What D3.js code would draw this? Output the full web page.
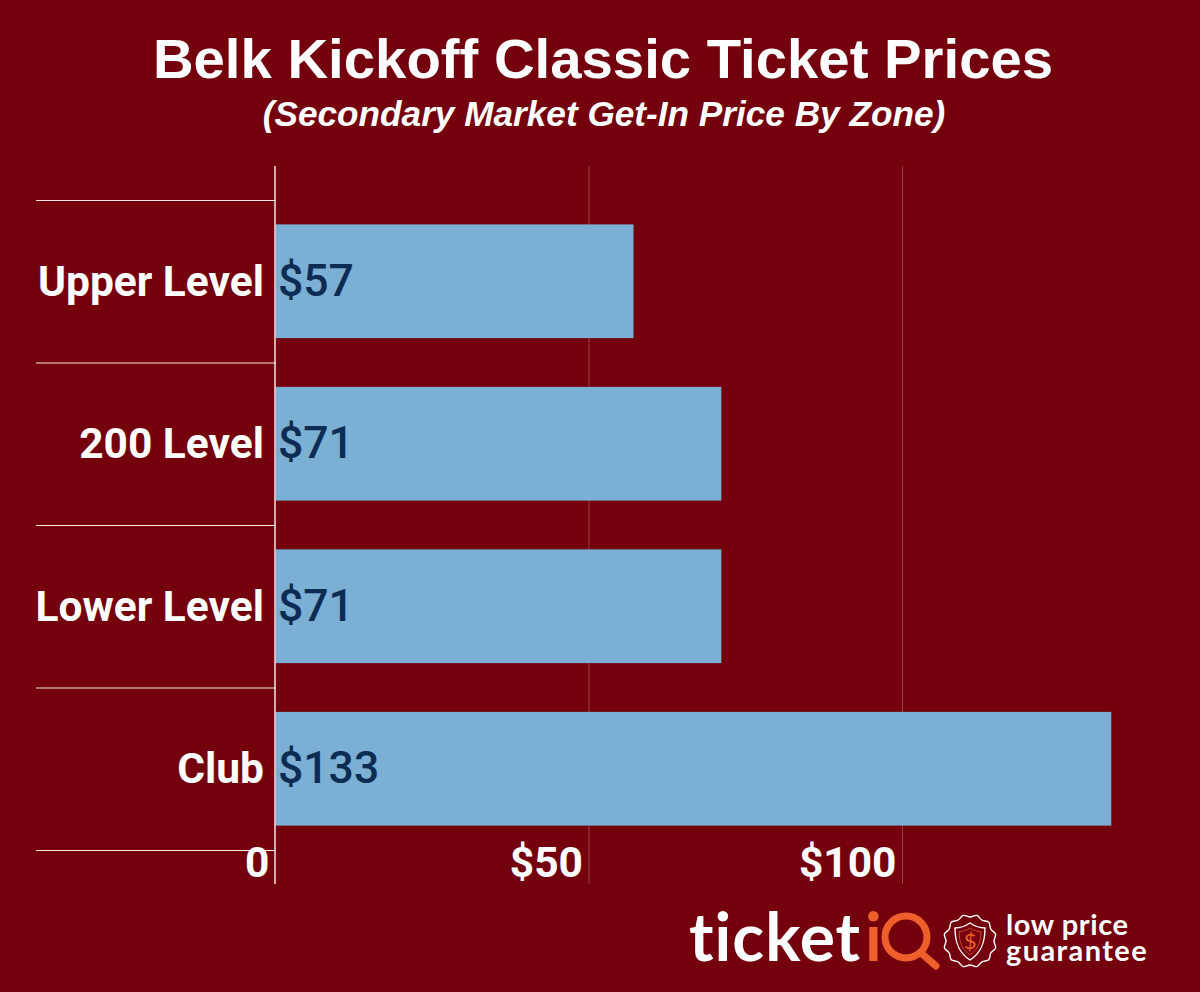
<!DOCTYPE html>
<html>
<head>
<meta charset="utf-8">
<script src="https://cdn.jsdelivr.net/npm/d3@7"></script>
<style>
  html, body { margin: 0; padding: 0; background: #75000d; }
  svg { display: block; }
</style>
</head>
<body>
<div id="chart"></div>
<script>
// values
const zones = ["Upper Level", "200 Level", "Lower Level", "Club"];
const prices = [57, 71, 71, 133];
const barValues = [57.1, 71.1, 71.1, 133.3];
const xTicks = [0, 50, 100];

const width = 1200, height = 992;
const bg = "#75000d";

const svg = d3.select("#chart").append("svg")
    .attr("width", width)
    .attr("height", height);

svg.append("rect").attr("width", width).attr("height", height).attr("fill", bg);

// title
svg.append("text")
    .attr("x", 603).attr("y", 78)
    .attr("text-anchor", "middle")
    .style("font-family", "'Liberation Sans'")
    .style("font-weight", "bold")
    .style("font-size", "56.3px")
    .attr("fill", "#fff")
    .text("Belk Kickoff Classic Ticket Prices");
svg.append("text")
    .attr("x", 604).attr("y", 126)
    .attr("text-anchor", "middle")
    .style("font-family", "'Liberation Sans'")
    .style("font-weight", "bold")
    .style("font-style", "italic")
    .style("font-size", "35.2px")
    .attr("fill", "#fff")
    .text("(Secondary Market Get-In Price By Zone)");

// scales
const x = d3.scaleLinear().domain([0, 100]).range([275.5, 902.5]);
const y = d3.scaleBand().domain(zones).range([200.5, 850.5]).paddingInner(0.3).paddingOuter(0.15);

// vertical gridlines
svg.append("g").selectAll("line")
    .data(xTicks.slice(1))
    .enter().append("line")
    .attr("x1", d => x(d)).attr("x2", d => x(d))
    .attr("y1", 166).attr("y2", 884)
    .attr("stroke", "#93404a")
    .attr("stroke-width", 1);

// separators between the zones
const seps = zones.map(z => y(z) - y.step() * y.paddingOuter()).concat([850.5]);
svg.append("g").selectAll("line")
    .data(seps)
    .enter().append("line")
    .attr("x1", 36).attr("x2", x(0))
    .attr("y1", d => d).attr("y2", d => d)
    .attr("stroke", "#f7e8e8")
    .attr("stroke-width", 1);

// bars
svg.append("g").selectAll("rect")
    .data(zones)
    .enter().append("rect")
    .attr("x", x(0))
    .attr("y", d => y(d) - 0.5)
    .attr("width", (d, i) => x(barValues[i]) - x(0))
    .attr("height", y.bandwidth())
    .attr("fill", "#7bafd4");

// y axis line
svg.append("line")
    .attr("x1", x(0) - 0.5).attr("x2", x(0) - 0.5)
    .attr("y1", 166).attr("y2", 884)
    .attr("stroke", "#f4e6e7")
    .attr("stroke-width", 1.5);

// zone labels
svg.append("g").selectAll("text")
    .data(zones)
    .enter().append("text")
    .attr("x", 264)
    .attr("y", d => y(d) + y.bandwidth() / 2 + 14)
    .attr("text-anchor", "end")
    .style("font-family", "Roboto")
    .style("font-weight", "bold")
    .style("font-size", "42.5px")
    .attr("fill", "#fff")
    .text(d => d);

// value labels
svg.append("g").selectAll("text")
    .data(prices)
    .enter().append("text")
    .attr("x", 278)
    .attr("y", (d, i) => y(zones[i]) + y.bandwidth() / 2 + 14)
    .style("font-family", "Roboto")
    .style("font-weight", 500)
    .style("font-size", "44.5px")
    .attr("fill", "#0d2c54")
    .text(d => "$" + d);

// x tick labels
svg.append("g").selectAll("text")
    .data(xTicks)
    .enter().append("text")
    .attr("x", d => x(d) - 6)
    .attr("y", 877)
    .attr("text-anchor", "end")
    .style("font-family", "Roboto")
    .style("font-weight", "bold")
    .style("font-size", "42.5px")
    .attr("fill", "#fff")
    .text(d => d === 0 ? "0" : "$" + d);

// ticketiQ logo
const logo = svg.append("g");
logo.append("text")
    .attr("x", 689).attr("y", 961)
    .style("font-family", "Lato")
    .style("font-weight", "bold")
    .style("font-size", "66px")
    .style("letter-spacing", "1px")
    .attr("fill", "#fff")
    .text("ticket");
logo.append("text")
    .attr("x", 865).attr("y", 961)
    .style("font-family", "Lato")
    .style("font-weight", "bold")
    .style("font-size", "66px")
    .attr("fill", "#ee5f2b")
    .text("i");
logo.append("circle")
    .attr("cx", 906).attr("cy", 937).attr("r", 21)
    .attr("fill", "none").attr("stroke", "#ee5f2b").attr("stroke-width", 7);
logo.append("line")
    .attr("x1", 921).attr("y1", 953).attr("x2", 936).attr("y2", 966)
    .attr("stroke", "#ee5f2b").attr("stroke-width", 7).attr("stroke-linecap", "round");

// badge
const badge = logo.append("g").attr("transform", "translate(970,941)");
const wavy = d3.lineRadial().curve(d3.curveCatmullRomClosed)
    .angle(d => d[0]).radius(d => d[1]);
const wavyPts = d3.range(24).map(i => [i * Math.PI / 12, i % 2 ? 26.5 : 24]);
badge.append("path")
    .attr("d", wavy(wavyPts))
    .attr("fill", "none").attr("stroke", "#fff").attr("stroke-width", 1.4);
const shield = "M0,-18 C6,-14 11,-13 15,-13 C15,2 11,12 0,19 C-11,12 -15,2 -15,-13 C-11,-13 -6,-14 0,-18 Z";
badge.append("path")
    .attr("d", shield)
    .attr("fill", "none").attr("stroke", "#fff").attr("stroke-width", 1.4);
badge.append("path")
    .attr("d", shield)
    .attr("transform", "scale(0.72)")
    .attr("fill", "none").attr("stroke", "#ee5f2b").attr("stroke-width", 1);
badge.append("text")
    .attr("y", 8).attr("text-anchor", "middle")
    .style("font-family", "Lato")
    .style("font-size", "22px")
    .attr("fill", "#ee5f2b")
    .text("$");

logo.append("text")
    .attr("x", 1006).attr("y", 935)
    .style("font-family", "Lato")
    .style("font-weight", "bold")
    .style("font-size", "29px")
    .style("letter-spacing", "0.6px")
    .attr("fill", "#fff")
    .text("low price");
logo.append("text")
    .attr("x", 1006).attr("y", 961)
    .style("font-family", "Lato")
    .style("font-weight", "bold")
    .style("font-size", "29px")
    .style("letter-spacing", "1.4px")
    .attr("fill", "#fff")
    .text("guarantee");
</script>
</body>
</html>
